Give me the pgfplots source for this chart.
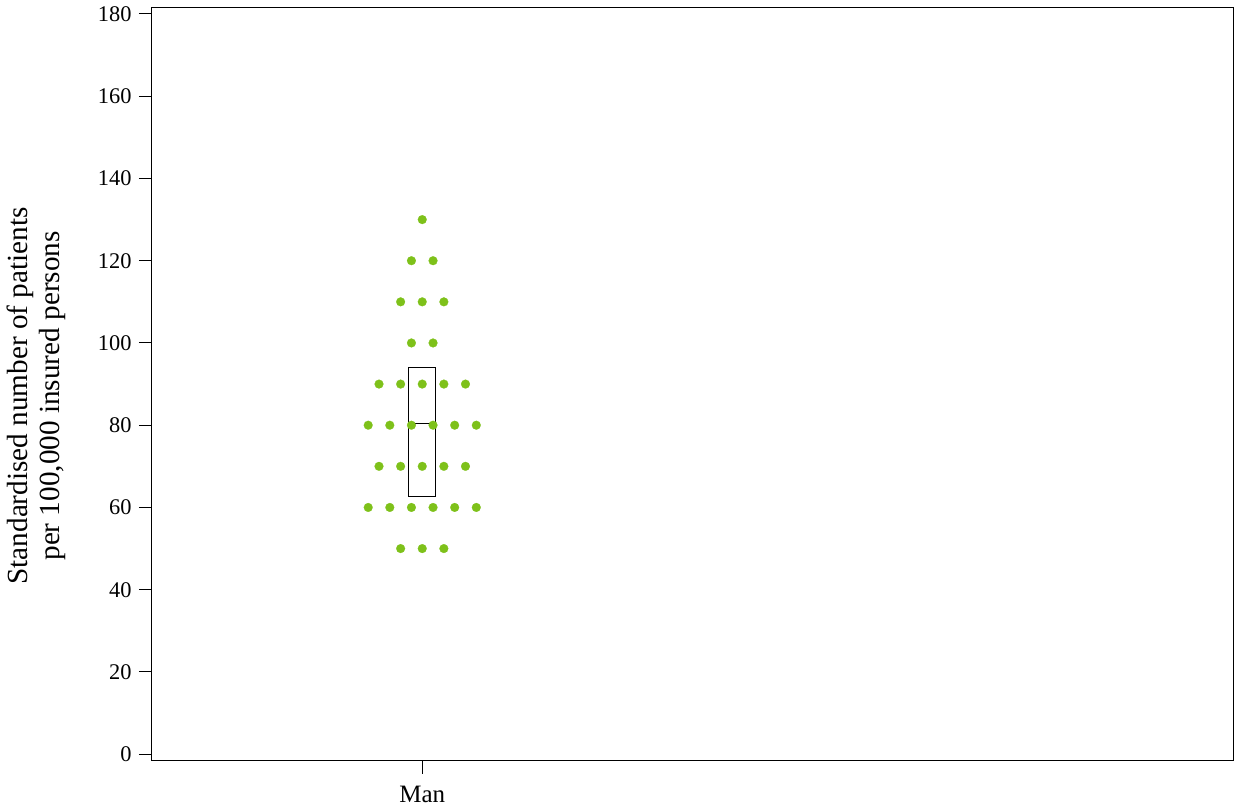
\documentclass[border=0pt]{standalone}
\usepackage{fontspec}
\setmainfont{Liberation Serif}
\usepackage{pgfplots}
\pgfplotsset{compat=1.18}
\definecolor{dotgreen}{RGB}{126,193,26}
\begin{document}
\begin{tikzpicture}
\begin{axis}[
  scale only axis,
  width=540.5pt, height=376.3pt,
  xmin=0.5, xmax=2.5,
  ymin=-1.56, ymax=181.46,
  axis line style={line width=0.5pt, black},
  tick pos=left,
  tick align=outside,
  major tick length=6.5pt,
  tick style={line width=0.5pt, black},
  xtick={1}, xticklabels={Man},
  ytick={0,20,...,180},
  /pgf/number format/assume math mode=true,
  yticklabel style={font=\fontsize{11.2}{13}\selectfont, inner sep=0pt, xshift=-3.5pt},
  xticklabel style={font=\fontsize{12.5}{14}\selectfont, inner sep=0pt, yshift=-6.3pt},
  ylabel={Standardised number of patients\\per 100,000 insured persons},
  ylabel style={at={(axis description cs:-0.107,0.4845)}, anchor=center, align=center,
    font=\fontsize{14.6}{15.8}\selectfont},
  clip=false,
]
% box
\addplot[black, line width=0.5pt] coordinates {(0.975,62.56) (1.025,62.56) (1.025,94.1) (0.975,94.1) (0.975,62.56)};
\addplot[black, line width=0.5pt] coordinates {(0.975,80.3) (1.025,80.3)};
% dots
\addplot[only marks, mark=*, mark size=2.2pt, color=dotgreen, mark options={fill=dotgreen, draw=dotgreen, line width=0.1pt}] coordinates {
(1.00,130)
(0.98,120) (1.02,120)
(0.96,110) (1.00,110) (1.04,110)
(0.98,100) (1.02,100)
(0.92,90) (0.96,90) (1.00,90) (1.04,90) (1.08,90)
(0.90,80) (0.94,80) (0.98,80) (1.02,80) (1.06,80) (1.10,80)
(0.92,70) (0.96,70) (1.00,70) (1.04,70) (1.08,70)
(0.90,60) (0.94,60) (0.98,60) (1.02,60) (1.06,60) (1.10,60)
(0.96,50) (1.00,50) (1.04,50)
};
\end{axis}
\pgfresetboundingbox
\path ([shift={(-76pt,-23.15pt)}]current axis.south west) rectangle ([shift={(1.5pt,4pt)}]current axis.north east);
\end{tikzpicture}
\end{document}
